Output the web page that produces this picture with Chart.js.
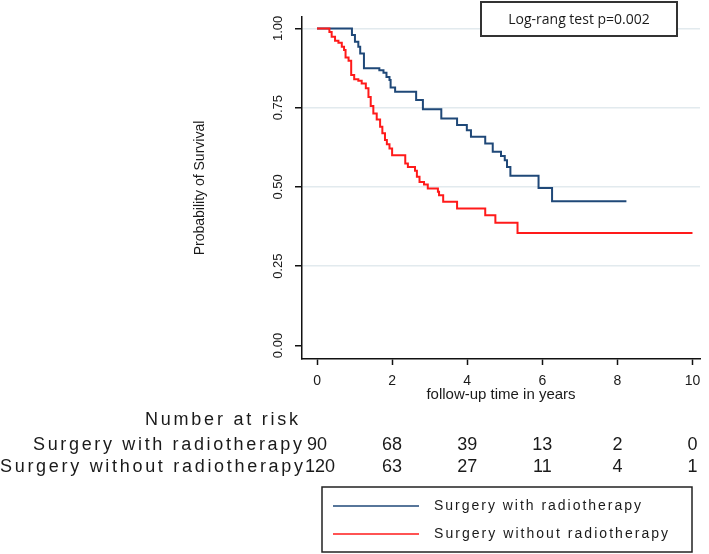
<!DOCTYPE html>
<html>
<head>
<meta charset="utf-8">
<script src="https://cdn.jsdelivr.net/npm/chart.js@4"></script>
<style>
  html, body { margin: 0; padding: 0; background: #fff; }
  #wrap { width: 709px; height: 554px; }
</style>
</head>
<body>
<div id="wrap"><canvas id="km" width="709" height="554"></canvas></div>
<script>
// Kaplan-Meier steps (time in years, survival probability)
const withTimes = [0, 0.93, 1.01, 1.10, 1.15, 1.25, 1.66, 1.77, 1.85, 1.93, 1.96, 2.08, 2.64, 2.82, 3.31, 3.73, 3.99, 4.10, 4.48, 4.68, 4.90, 5.00, 5.06, 5.15, 5.90, 6.26, 8.24];
const withSurv  = [1, 0.979, 0.958, 0.942, 0.921, 0.874, 0.868, 0.860, 0.847, 0.837, 0.814, 0.800, 0.774, 0.745, 0.716, 0.695, 0.679, 0.658, 0.637, 0.611, 0.598, 0.584, 0.563, 0.535, 0.497, 0.455, 0.455];

const withoutTimes = [0, 0.33, 0.39, 0.48, 0.57, 0.66, 0.72, 0.76, 0.84, 0.91, 0.99, 1.10, 1.19, 1.30, 1.37, 1.43, 1.50, 1.59, 1.68, 1.74, 1.81, 1.86, 1.93, 2.00, 2.35, 2.42, 2.61, 2.66, 2.73, 2.85, 2.95, 3.22, 3.25, 3.36, 3.73, 4.48, 4.75, 5.34, 10];
const withoutSurv  = [1, 0.989, 0.974, 0.961, 0.955, 0.942, 0.932, 0.908, 0.898, 0.853, 0.840, 0.835, 0.826, 0.811, 0.784, 0.755, 0.732, 0.713, 0.690, 0.669, 0.648, 0.635, 0.621, 0.600, 0.574, 0.563, 0.551, 0.532, 0.516, 0.508, 0.495, 0.485, 0.474, 0.453, 0.432, 0.411, 0.387, 0.355, 0.355];

const groupLabels = ['Surgery with radiotherapy', 'Surgery without radiotherapy'];
const xTicks = [0, 2, 4, 6, 8, 10];
const yTicks = [0, 0.25, 0.5, 0.75, 1];
const riskWith = [90, 68, 39, 13, 2, 0];
const riskWithout = [120, 63, 27, 11, 4, 1];
const testLabel = 'Log-rang test p=0.002';

const BLUE = '#1f4878';
const RED = '#ff1a1a';
const TEXT = '#1a1a1a';
const FONT = 'Arial, "Liberation Sans", sans-serif';

function toPoints(xs, ys) {
    return xs.map((t, i) => ({ x: t, y: ys[i] }));
}

// draw text stretched to a width with letter spacing (the figure's text is widely spaced)
function spacedText(ctx, text, x, y, width, align) {
    ctx.letterSpacing = '0px';
    const w = ctx.measureText(text).width;
    const sp = Math.max(0, (width - w) / Math.max(1, text.length - 1));
    ctx.letterSpacing = sp.toFixed(2) + 'px';
    ctx.textAlign = 'left';
    const startX = align === 'right' ? x - width : x;
    ctx.fillText(text, startX, y);
    ctx.letterSpacing = '0px';
}

const overlay = {
    id: 'overlay',
    afterDraw(chart) {
        const ctx = chart.ctx;
        const xs = chart.scales.x;
        const ys = chart.scales.y;
        ctx.save();
        ctx.fillStyle = TEXT;

        // rotated y tick labels
        ctx.font = '13px ' + FONT;
        ctx.textAlign = 'center';
        ctx.textBaseline = 'middle';
        ys.ticks.forEach(t => {
            ctx.save();
            ctx.translate(xs.left - 24, ys.getPixelForValue(t.value));
            ctx.rotate(-Math.PI / 2);
            ctx.fillText(t.value.toFixed(2), 0, 0);
            ctx.restore();
        });

        // log-rank box
        ctx.fillStyle = '#fff';
        ctx.fillRect(481, 2, 196, 34);
        ctx.strokeStyle = '#333';
        ctx.lineWidth = 2;
        ctx.strokeRect(481, 2, 196, 34);
        ctx.fillStyle = TEXT;
        ctx.font = '14px "Open Sans", sans-serif';
        ctx.textAlign = 'center';
        ctx.fillText(testLabel, 579, 20);

        // number at risk table
        ctx.font = '18px ' + FONT;
        ctx.textBaseline = 'middle';
        spacedText(ctx, 'Number at risk', 298, 420, 153, 'right');
        spacedText(ctx, groupLabels[0], 302, 445, 269, 'right');
        spacedText(ctx, groupLabels[1], 303, 467, 303, 'right');
        ctx.textAlign = 'center';
        xTicks.forEach((t, i) => {
            const px = xs.getPixelForValue(t);
            ctx.fillText(String(riskWith[i]), px, 445);
            ctx.fillText(String(riskWithout[i]), px + (i === 0 ? 3 : 0), 467);
        });

        // legend box
        ctx.strokeStyle = '#222';
        ctx.lineWidth = 1.5;
        ctx.strokeRect(322, 487, 370, 65);
        [[BLUE, 506], [RED, 534]].forEach(([c, y], i) => {
            ctx.strokeStyle = c;
            ctx.lineWidth = 1.5;
            ctx.beginPath();
            ctx.moveTo(333, y);
            ctx.lineTo(419, y);
            ctx.stroke();
            ctx.fillStyle = TEXT;
            ctx.font = '14px ' + FONT;
            spacedText(ctx, groupLabels[i], 434, y, i === 0 ? 207 : 234, 'left');
        });
        ctx.restore();
    }
};

new Chart(document.getElementById('km'), {
    type: 'line',
    data: {
        datasets: [
            {
                label: groupLabels[1],
                data: toPoints(withoutTimes, withoutSurv),
                borderColor: RED,
                borderWidth: 2,
                stepped: 'before',
                pointRadius: 0,
                fill: false,
                order: 0
            },
            {
                label: groupLabels[0],
                data: toPoints(withTimes, withSurv),
                borderColor: BLUE,
                borderWidth: 2,
                stepped: 'before',
                pointRadius: 0,
                fill: false,
                order: 1
            }
        ]
    },
    options: {
        responsive: false,
        devicePixelRatio: 1,
        animation: false,
        layout: { padding: { left: 190, top: 17, right: 9, bottom: 150 } },
        plugins: { legend: { display: false }, tooltip: { enabled: false } },
        scales: {
            x: {
                type: 'linear',
                min: -0.4,
                max: 10.2,
                afterBuildTicks: s => { s.ticks = xTicks.map(v => ({ value: v })); },
                afterFit: s => { s.height = 45; },
                grid: { drawOnChartArea: false, drawTicks: true, tickLength: 6, tickColor: '#111', tickWidth: 1.5 },
                border: { color: '#111', width: 1.5 },
                ticks: { color: TEXT, font: { family: FONT, size: 14 }, padding: 8, maxRotation: 0 },
                title: {
                    display: true,
                    text: 'follow-up time in years',
                    color: TEXT,
                    font: { family: FONT, size: 15 },
                    padding: { top: 0, bottom: 0 }
                }
            },
            y: {
                min: -0.0426,
                max: 1.036,
                afterBuildTicks: s => { s.ticks = yTicks.map(v => ({ value: v })); },
                afterFit: s => { s.width = 112; },
                grid: {
                    color: ctx => (ctx.tick && ctx.tick.value === 0 ? 'rgba(0,0,0,0)' : '#e2eaee'),
                    lineWidth: 1.5,
                    drawTicks: true,
                    tickLength: 7,
                    tickColor: '#111',
                    tickWidth: 1.5
                },
                border: { color: '#111', width: 1.5 },
                ticks: { display: false },
                title: {
                    display: true,
                    text: 'Probability of Survival',
                    color: TEXT,
                    font: { family: FONT, size: 14 },
                    padding: { top: 2, bottom: 2 }
                }
            }
        }
    },
    plugins: [overlay]
});
</script>
</body>
</html>
